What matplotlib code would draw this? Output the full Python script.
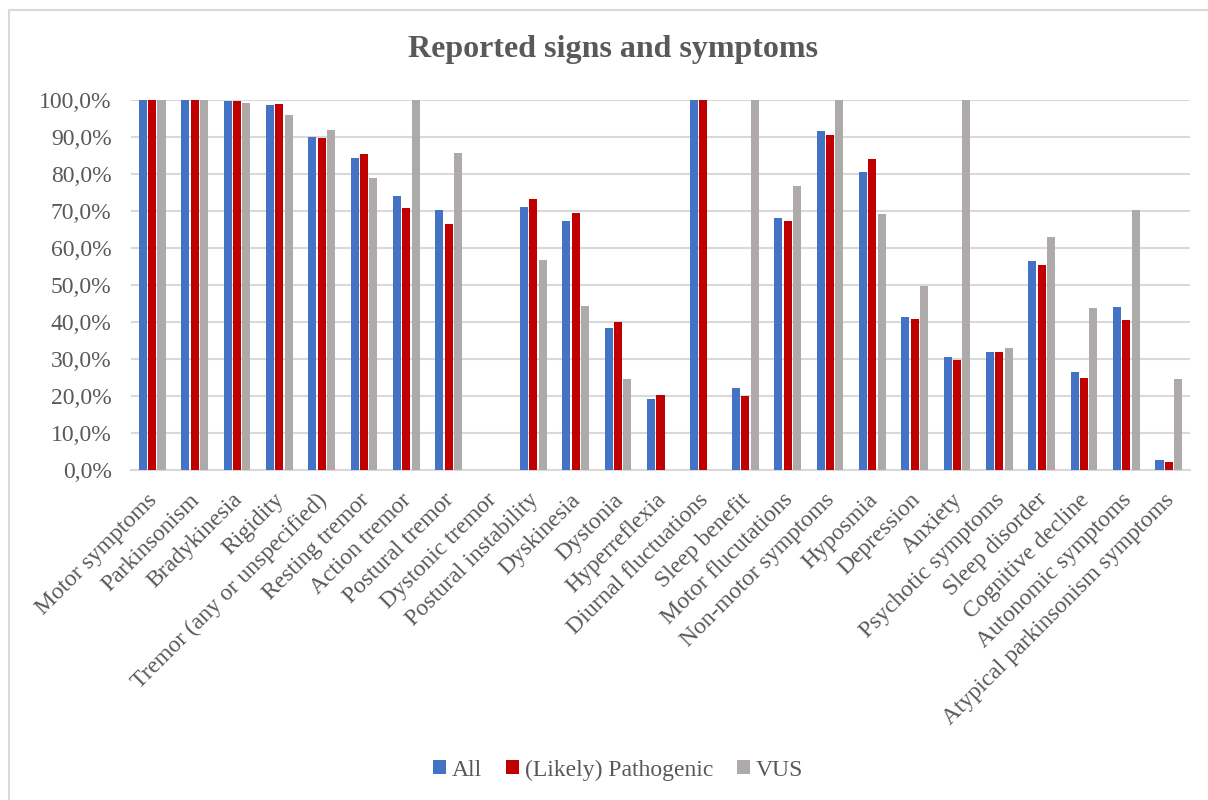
import numpy as np
import matplotlib
matplotlib.use("Agg")
import matplotlib.pyplot as plt
from matplotlib.patches import Rectangle, Patch
from matplotlib.ticker import FuncFormatter
from matplotlib.transforms import ScaledTranslation

categories = ["Motor symptoms", "Parkinsonism", "Bradykinesia", "Rigidity",
              "Tremor (any or unspecified)", "Resting tremor", "Action tremor",
              "Postural tremor", "Dystonic tremor", "Postural instability",
              "Dyskinesia", "Dystonia", "Hyperreflexia", "Diurnal fluctuations",
              "Sleep benefit", "Motor flucutations", "Non-motor symptoms",
              "Hyposmia", "Depression", "Anxiety", "Psychotic symptoms",
              "Sleep disorder", "Cognitive decline", "Autonomic symptoms",
              "Atypical parkinsonism symptoms"]

all_vals = [100.0, 100.0, 99.6, 98.6, 89.9, 84.4, 74.0, 70.4, 0.0, 71.0,
            67.2, 38.3, 19.3, 100.0, 22.1, 68.1, 91.6, 80.5, 41.3, 30.5,
            31.9, 56.5, 26.4, 44.0, 2.7]
patho_vals = [100.0, 100.0, 99.6, 98.8, 89.7, 85.4, 70.7, 66.6, 0.0, 73.3,
              69.4, 40.1, 20.4, 100.0, 20.0, 67.4, 90.5, 84.0, 40.7, 29.7,
              31.9, 55.3, 25.0, 40.6, 2.2]
vus_vals = [100.0, 100.0, 99.3, 95.9, 91.8, 79.0, 100.0, 85.6, 0.0, 56.8,
            44.2, 24.7, 0.0, 0.0, 100.0, 76.8, 100.0, 69.1, 49.7, 100.0,
            33.0, 63.0, 43.9, 70.4, 24.7]

series_names = ["All", "(Likely) Pathogenic", "VUS"]
colors = ["#4472C4", "#C00000", "#AEAAAA"]
txt = "#595959"
grid_c = "#D9D9D9"

plt.rcParams['font.family'] = ['Liberation Serif', 'DejaVu Serif']

W, H = 1208, 800
fig = plt.figure(figsize=(W / 100, H / 100), dpi=100)

# chart border (left and top visible, rest cut off)
fig.patches.append(Rectangle((9 / W, -0.1), 1.2, (H - 10) / H + 0.1,
                             transform=fig.transFigure, fill=False,
                             edgecolor=grid_c, linewidth=1.5))

ax = fig.add_axes([131 / W, (H - 470) / H, (1190 - 131) / W, 370 / H])

x = np.arange(len(categories))
step = 0.22
bw = 0.19
for i, (vals, c) in enumerate(zip([all_vals, patho_vals, vus_vals], colors)):
    ax.bar(x + (i - 1) * step, vals, width=bw, color=c, zorder=3)

ax.set_xlim(-0.5, len(categories) - 0.5)
ax.set_ylim(0, 100)
ax.set_yticks(np.arange(0, 101, 10))
ax.yaxis.set_major_formatter(FuncFormatter(lambda v, p: f"{v:.1f}%".replace(".", ",")))
ax.grid(axis='y', color=grid_c, linewidth=1.5, zorder=0)
for s in ["top", "right", "left"]:
    ax.spines[s].set_visible(False)
ax.spines["bottom"].set_color(grid_c)
ax.spines["bottom"].set_linewidth(1.5)
ax.tick_params(axis='both', length=0, labelsize=17, labelcolor=txt)
ax.tick_params(axis='y', pad=14)
ax.set_xticks(x)
ax.set_xticklabels(categories, rotation=45, ha='right', va='top',
                   rotation_mode='anchor')
ax.tick_params(axis='x', pad=10)
# nudge category labels down-left along their slant
shift = ScaledTranslation(-0.055, -0.055, fig.dpi_scale_trans)
for lab in ax.get_xticklabels():
    lab.set_transform(lab.get_transform() + shift)

fig.text(613 / W, 1 - 49 / H, "Reported signs and symptoms", ha='center',
         va='center', fontsize=23, fontweight='bold', color=txt)

handles = [Patch(facecolor=c, label=n) for c, n in zip(colors, series_names)]
fig.legend(handles=handles, loc='center', bbox_to_anchor=(618 / W, 30 / H),
           ncol=3, frameon=False, fontsize=17, labelcolor=txt,
           handlelength=0.55, handleheight=0.55, handletextpad=0.25,
           columnspacing=1.0)

fig.savefig("out.png", dpi=100)
